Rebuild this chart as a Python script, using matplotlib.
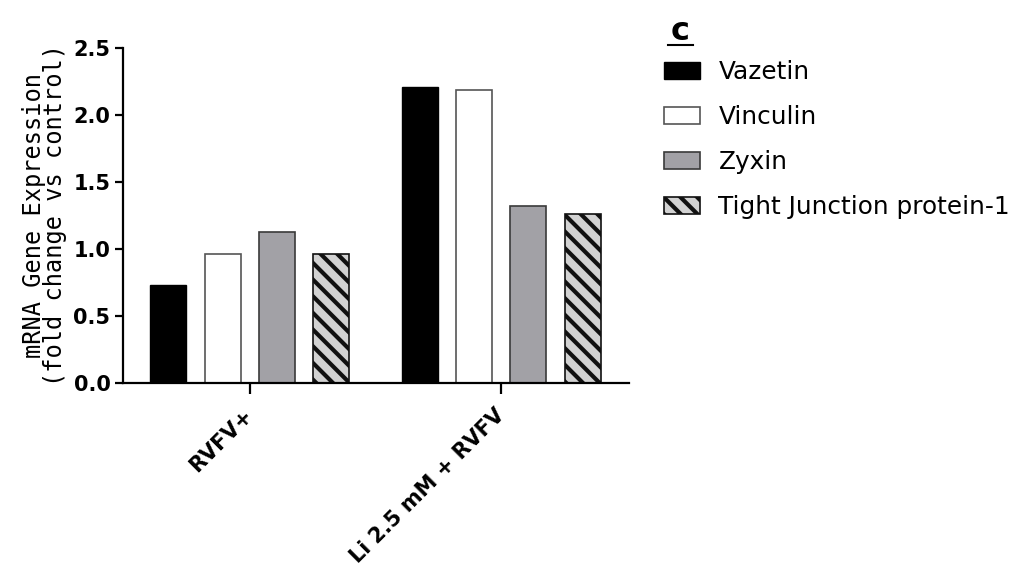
import matplotlib
matplotlib.use("Agg")
import matplotlib.pyplot as plt
from matplotlib.patches import Patch
from matplotlib.lines import Line2D
import numpy as np

# Treatment groups and fold-change values for each gene
groups = ["RVFV+", "Li 2.5 mM + RVFV"]
genes = ["Vazetin", "Vinculin", "Zyxin", "Tight Junction protein-1"]
vazetin = [0.73, 2.21]
vinculin = [0.96, 2.19]
zyxin = [1.13, 1.32]
tjp1 = [0.96, 1.26]
y_ticks = [0.0, 0.5, 1.0, 1.5, 2.0, 2.5]

series = [vazetin, vinculin, zyxin, tjp1]
styles = [
    dict(facecolor="#000000", edgecolor="#000000", linewidth=1.0),
    dict(facecolor="#ffffff", edgecolor="#555555", linewidth=1.2),
    dict(facecolor="#a2a1a6", edgecolor="#3a3a3a", linewidth=1.2),
    dict(facecolor="#d2d2d2", edgecolor="#111111", linewidth=1.2, hatch="\\\\"),
]

plt.rcParams["hatch.linewidth"] = 3.0
plt.rcParams["font.family"] = "DejaVu Sans"

fig = plt.figure(figsize=(10.14, 5.69), dpi=100)
ax = fig.add_axes([123 / 1014, 1 - 383 / 569, (629 - 123) / 1014, 335 / 569])

x = np.arange(len(groups))
step = 0.2163
width = 0.143
offsets = (np.arange(len(series)) - 1.5) * step
for vals, off, st in zip(series, offsets, styles):
    ax.bar(x + off, vals, width=width, **st)

ax.set_xlim(-0.504, 1.508)
ax.set_ylim(0, 2.5)
ax.set_yticks(y_ticks)
ax.set_yticklabels([f"{t:.1f}" for t in y_ticks], fontsize=15, fontweight="bold")
ax.set_xticks(x)
ax.set_xticklabels(groups, fontsize=15, fontweight="bold", rotation=45,
                   ha="right", va="center", rotation_mode="anchor")

for side in ("top", "right"):
    ax.spines[side].set_visible(False)
for side in ("left", "bottom"):
    ax.spines[side].set_linewidth(1.6)
ax.tick_params(axis="y", direction="out", length=6, width=1.6, pad=3)
ax.tick_params(axis="x", direction="out", length=8, width=1.6, pad=13)

ax.set_ylabel("mRNA Gene Expression\n(fold change vs control)",
              family="DejaVu Sans Mono", fontsize=17, linespacing=0.82,
              labelpad=5)

handles = [Patch(**st) for st in styles]
fig.legend(handles, genes, loc="upper left", bbox_to_anchor=(664 / 1014, 1 - 60 / 569),
           frameon=False, fontsize=17.8, handlelength=1.45, handleheight=0.72,
           handletextpad=0.75, labelspacing=0.85, borderaxespad=0, borderpad=0)

fig.text(680.5 / 1014, 1 - 31 / 569, "c", fontsize=23, fontweight="bold",
         ha="center", va="center")
fig.add_artist(Line2D([668 / 1014, 693 / 1014], [1 - 44.5 / 569, 1 - 44.5 / 569],
                      color="black", linewidth=1.5, transform=fig.transFigure))

fig.savefig("out.png", dpi=100)
